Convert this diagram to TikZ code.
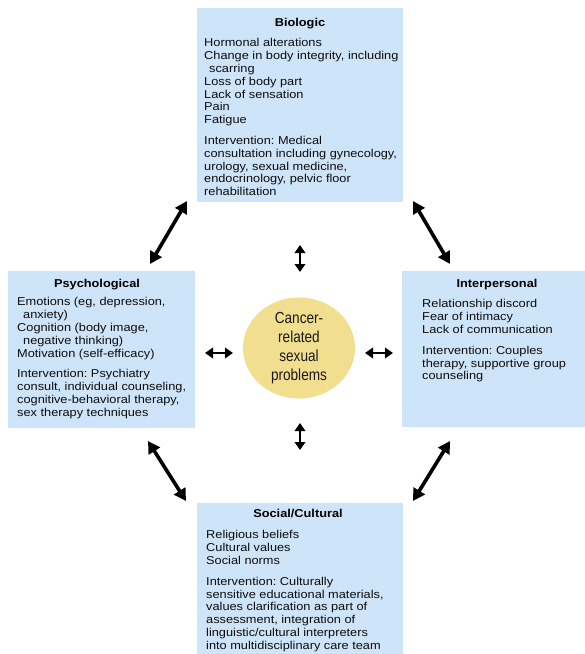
\documentclass[tikz,border=0pt]{standalone}
\usepackage{fontspec}
\setmainfont{Liberation Sans}[FakeStretch=1.12]
\newfontfamily\corefont{Liberation Sans}[FakeStretch=0.85]
\usetikzlibrary{arrows.meta,positioning,shapes.geometric}
\definecolor{boxblue}{RGB}{206,228,248}
\definecolor{coreyellow}{RGB}{241,222,143}
\frenchspacing

\begin{document}
\begin{tikzpicture}[x=1pt,y=-1pt,
  panel/.style={fill=boxblue,draw=none,inner sep=0pt,anchor=north west},
  head/.style={font=\fontsize{11.4}{12.8}\selectfont\bfseries,inner sep=0pt,text=black},
  body/.style={font=\fontsize{11.4}{12.8}\selectfont,align=left,inner sep=0pt,anchor=north west,text=black!95},
  bigarr/.style={{Triangle[length=12pt,width=13pt]}-{Triangle[length=12pt,width=13pt]},line width=3.6pt},
  smallarr/.style={{Triangle[length=8pt,width=10.5pt]}-{Triangle[length=8pt,width=10.5pt]},line width=2.8pt}]
\useasboundingbox (0,0) rectangle (585,654);
% the four panels
\node[panel,minimum width=206pt,minimum height=194pt] (bio) at (197,8) {};
\node[panel,minimum width=187pt,minimum height=157pt] (psy) at (8,271) {};
\node[panel,minimum width=183pt,minimum height=156pt] (inter) at (402,271) {};
\node[panel,minimum width=206pt,minimum height=151pt] (soc) at (197,503) {};
% titles
\node[head] (biohead) at (300,23.5) {Biologic};
\node[head] (psyhead) at (97,284.5) {Psychological};
\node[head] (interhead) at (497,285) {Interpersonal};
\node[head] (sochead) at (298,513.5) {Social/Cultural};
% texts
\node[body] (biotext) at (204,38.5) {Hormonal alterations\\
Change in body integrity, including\\
\hspace*{5pt}scarring\\
Loss of body part\\
Lack of sensation\\
Pain\\
Fatigue\\[8pt]
Intervention: Medical\\
consultation including gynecology,\\
urology, sexual medicine,\\
endocrinology, pelvic floor\\
rehabilitation};
\node[body] (psytext) at (17,297.5) {Emotions (eg, depression,\\
\hspace*{6pt}anxiety)\\
Cognition (body image,\\
\hspace*{6pt}negative thinking)\\
Motivation (self-efficacy)\\[8pt]
Intervention: Psychiatry\\
consult, individual counseling,\\
cognitive-behavioral therapy,\\
sex therapy techniques};
\node[body] (intertext) at (422,299.5) {Relationship discord\\
Fear of intimacy\\
Lack of communication\\[8pt]
Intervention: Couples\\
therapy, supportive group\\
counseling};
\node[body] (soctext) at (206,530.5) {Religious beliefs\\
Cultural values\\
Social norms\\[8pt]
Intervention: Culturally\\
sensitive educational materials,\\
values clarification as part of\\
assessment, integration of\\
linguistic/cultural interpreters\\
into multidisciplinary care team};
% centre
\node[ellipse,fill=coreyellow,minimum width=112pt,minimum height=97pt,inner sep=0pt,align=center,
  font=\corefont\fontsize{16}{19}\selectfont,text=black!90] (core) at (299,348) {Cancer-\\related\\sexual\\problems};
% arrow ends
\coordinate (ula) at (150,264);
\coordinate (ulb) at (187,201);
\coordinate (ura) at (413,201);
\coordinate (urb) at (450,264);
\coordinate (lla) at (148,441);
\coordinate (llb) at (186,501);
\coordinate (lra) at (450,441);
\coordinate (lrb) at (413,501);
\coordinate (ta) at (300,245);
\coordinate (tb) at (300,272);
\coordinate (ba) at (300,423);
\coordinate (bb) at (300,450);
\coordinate (la) at (205,353);
\coordinate (lb) at (233,353);
\coordinate (ra) at (365,353);
\coordinate (rb) at (393,353);
\draw[bigarr] (ula) -- (ulb);
\draw[bigarr] (ura) -- (urb);
\draw[bigarr] (lla) -- (llb);
\draw[bigarr] (lra) -- (lrb);
\draw[smallarr] (ta) -- (tb);
\draw[smallarr] (ba) -- (bb);
\draw[smallarr] (la) -- (lb);
\draw[smallarr] (ra) -- (rb);
\end{tikzpicture}
\end{document}
